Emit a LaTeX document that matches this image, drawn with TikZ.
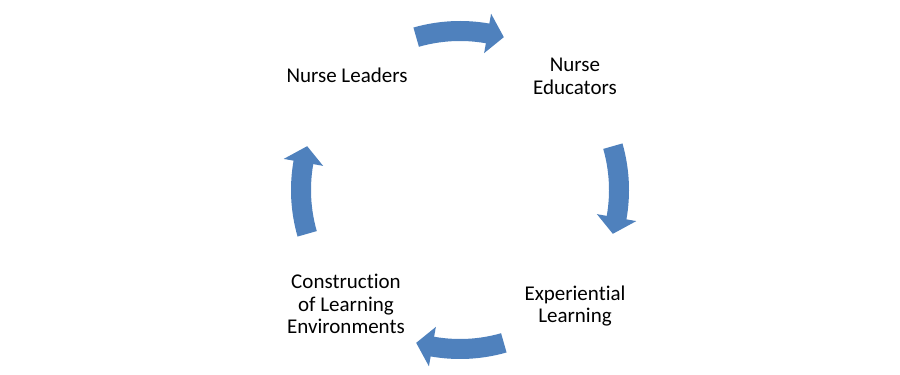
\documentclass[tikz,border=0pt]{standalone}
\usepackage{fontspec}
\setmainfont{Carlito}[Ligatures=NoCommon]
\definecolor{arrowblue}{HTML}{4F81BD}
\begin{document}
\begin{tikzpicture}[x=1pt,y=1pt,
  lbl/.style={align=center,anchor=base,inner sep=0pt,font=\fontsize{21}{23}\selectfont},
  blockarrow/.style={fill=arrowblue,draw=none}]
\useasboundingbox (0,0) rectangle (900,375);
\coordinate (c) at (460,185);
% curved block arrows (clockwise): #1 tail angle, #2 tip angle
\newcommand{\cyclearrow}[2]{%
  \pgfmathsetmacro{\hb}{#2+6}%
  \fill[blockarrow,shift={(c)}]
    (#1:169) arc[start angle=#1, end angle=\hb, radius=169]
    -- (\hb:179) -- (#2:159) -- (\hb:139) -- (\hb:149)
    arc[start angle=\hb, end angle=#1, radius=149] -- cycle;}
\cyclearrow{106}{74}
\cyclearrow{16}{-16}
\cyclearrow{-74}{-106}
\cyclearrow{196}{164}
\node[lbl] (leaders) at (347,292) {Nurse Leaders};
\node[lbl] (educators) at (575,280) {Nurse\\Educators};
\node[lbl] (experiential) at (575,52) {Experiential\\Learning};
\node[lbl] (construction) at (346,41) {Construction\\of Learning\\Environments};
\end{tikzpicture}
\end{document}
